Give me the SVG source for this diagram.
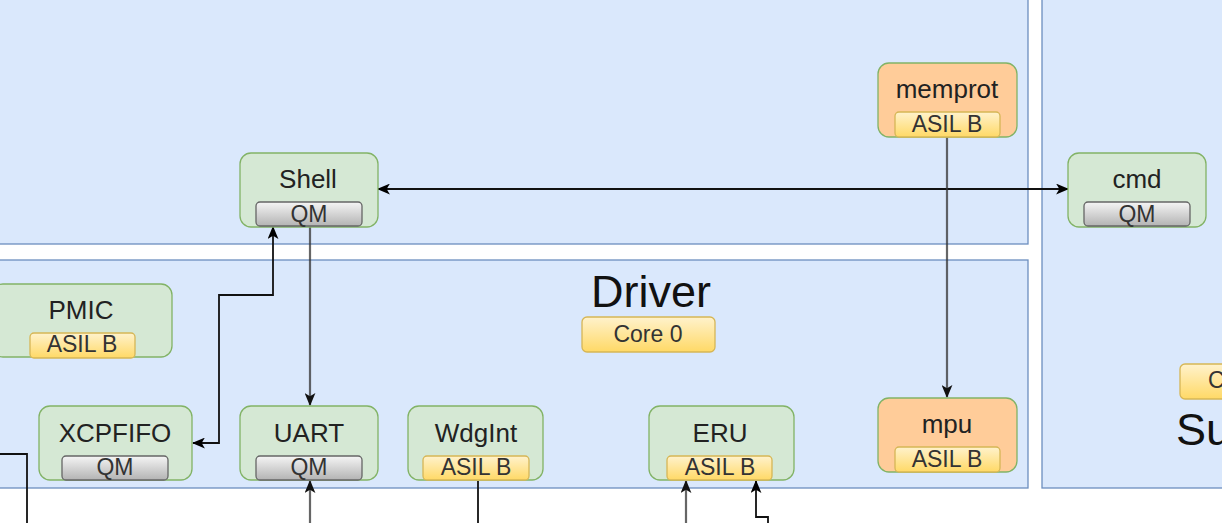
<svg xmlns="http://www.w3.org/2000/svg" width="1222" height="523" viewBox="0 0 1222 523">
<defs>
<linearGradient id="gQM" x1="0" y1="0" x2="0" y2="1"><stop offset="0" stop-color="#f5f5f5"/><stop offset="1" stop-color="#b3b3b3"/></linearGradient>
<linearGradient id="gAS" x1="0" y1="0" x2="0" y2="1"><stop offset="0" stop-color="#fff2cc"/><stop offset="1" stop-color="#ffd966"/></linearGradient>
<marker id="ar" viewBox="0 0 12 10" refX="11" refY="5" markerWidth="13" markerHeight="11" markerUnits="userSpaceOnUse" orient="auto-start-reverse"><path d="M0,0 L12,5 L0,10 L3,5 z" fill="#000"/></marker>
<marker id="arg" viewBox="0 0 12 10" refX="11" refY="5" markerWidth="13" markerHeight="11" markerUnits="userSpaceOnUse" orient="auto-start-reverse"><path d="M0,0 L12,5 L0,10 L3,5 z" fill="#111"/></marker>
</defs>
<style>
.cont{fill:#dae8fc;stroke:#6c8ebf;stroke-width:1.3}
.node{fill:#d5e8d4;stroke:#82b366;stroke-width:1.3}
.onode{fill:#ffcc99;stroke:#82b366;stroke-width:1.3}
.qm{fill:url(#gQM);stroke:#666;stroke-width:1.3}
.as{fill:url(#gAS);stroke:#d6b656;stroke-width:1.3}
.lbl{font-family:"Liberation Sans",Arial,sans-serif;font-size:26px;fill:#222;text-anchor:middle}
.bt{font-family:"Liberation Sans",Arial,sans-serif;font-size:23px;fill:#333;text-anchor:middle}
.title{font-family:"Liberation Sans",Arial,sans-serif;font-size:45px;fill:#111;text-anchor:middle}
.ln{fill:none;stroke:#111;stroke-width:1.8}
.lg{fill:none;stroke:#333;stroke-width:2.2;stroke-opacity:0.75}
</style>
<rect width="1222" height="523" fill="#fff"/>
<g id="containers">
<rect class="cont" x="-10" y="-10" width="1038" height="254"/>
<rect class="cont" x="-10" y="260" width="1038" height="228"/>
<rect class="cont" x="1042" y="-10" width="200" height="498"/>
</g>
<g id="driver-title">
<text class="title" x="651" y="307">Driver</text>
<rect class="as" x="582" y="317" width="133" height="35" rx="5"/>
<text class="bt" x="648" y="342">Core 0</text>
</g>
<g id="sub-title">
<rect class="as" x="1180" y="364" width="133" height="35" rx="5"/>
<text class="bt" x="1208" y="388" style="text-anchor:start">C</text>
<text class="title" x="1176" y="445" style="text-anchor:start">Su</text>
</g>
<g id="connectors">
<path class="ln" d="M378,189 L1068,189" marker-start="url(#ar)" marker-end="url(#ar)"/>
<path class="lg" d="M310,227 L310,405" marker-end="url(#arg)"/>
<path class="ln" d="M193,443 L219,443 L219,295 L273,295 L273,227" marker-start="url(#ar)" marker-end="url(#ar)"/>
<path class="lg" d="M947,137 L947,397" marker-end="url(#arg)"/>
<path class="ln" d="M0,454 L27,454 L27,523"/>
<path class="lg" d="M310,523 L310,481" marker-end="url(#arg)"/>
<path class="ln" d="M478,481 L478,523"/>
<path class="lg" d="M686,523 L686,481" marker-end="url(#arg)"/>
<path class="ln" d="M768,523 L768,517 L756,517 L756,481" marker-end="url(#ar)"/>
</g>
<g id="memprot">
<rect class="onode" x="878" y="63" width="139" height="74" rx="11"/>
<text class="lbl" x="947" y="98">memprot</text>
<rect class="as" x="895" y="112" width="105" height="25" rx="4"/>
<text class="bt" x="947" y="132">ASIL B</text>
</g>
<g id="shell">
<rect class="node" x="240" y="153" width="138" height="74" rx="11"/>
<text class="lbl" x="308" y="188">Shell</text>
<rect class="qm" x="256" y="202" width="106" height="24" rx="4"/>
<text class="bt" x="309" y="222">QM</text>
</g>
<g id="cmd">
<rect class="node" x="1068" y="153" width="138" height="74" rx="11"/>
<text class="lbl" x="1137" y="188">cmd</text>
<rect class="qm" x="1084" y="202" width="106" height="24" rx="4"/>
<text class="bt" x="1137" y="222">QM</text>
</g>
<g id="pmic">
<rect class="node" x="-8" y="284" width="180" height="73" rx="11"/>
<text class="lbl" x="81" y="319">PMIC</text>
<rect class="as" x="30" y="333" width="105" height="25" rx="4"/>
<text class="bt" x="82" y="352">ASIL B</text>
</g>
<g id="xcpfifo">
<rect class="node" x="39" y="406" width="153" height="74" rx="11"/>
<text class="lbl" x="115" y="442">XCPFIFO</text>
<rect class="qm" x="62" y="456" width="106" height="24" rx="4"/>
<text class="bt" x="115" y="475">QM</text>
</g>
<g id="uart">
<rect class="node" x="240" y="406" width="138" height="74" rx="11"/>
<text class="lbl" x="309" y="442">UART</text>
<rect class="qm" x="256" y="456" width="106" height="24" rx="4"/>
<text class="bt" x="309" y="475">QM</text>
</g>
<g id="wdgint">
<rect class="node" x="408" y="406" width="135" height="74" rx="11"/>
<text class="lbl" x="476" y="442">WdgInt</text>
<rect class="as" x="423" y="456" width="106" height="24" rx="4"/>
<text class="bt" x="476" y="475">ASIL B</text>
</g>
<g id="eru">
<rect class="node" x="649" y="406" width="145" height="74" rx="11"/>
<text class="lbl" x="720" y="442">ERU</text>
<rect class="as" x="667" y="456" width="105" height="24" rx="4"/>
<text class="bt" x="720" y="475">ASIL B</text>
</g>
<g id="mpu">
<rect class="onode" x="878" y="398" width="139" height="74" rx="11"/>
<text class="lbl" x="947" y="433">mpu</text>
<rect class="as" x="895" y="447" width="105" height="25" rx="4"/>
<text class="bt" x="947" y="467">ASIL B</text>
</g>
</svg>
